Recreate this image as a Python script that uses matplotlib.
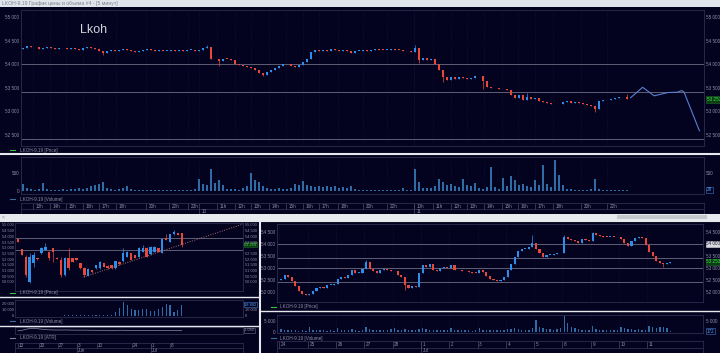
import numpy as np
import matplotlib
matplotlib.use('Agg')
import matplotlib.pyplot as plt
from matplotlib.patches import Rectangle

plt.rcParams['font.family'] = ['Liberation Sans', 'DejaVu Sans']

# ------------------------------------------------------------------ data
title_text = "LKOH-9.19 График цены и объема #4 - [5 минут]"
ticker_name = "Lkoh"
last_price = 53253

# --- top window: 5-minute chart (closes; opens follow previous close)
top_first_open = 54330
top_close = [
    54340, 54380, 54370, 54360, 54330, 54350, 54360, 54340,
    54330, 54350, 54340, 54330, 54340, 54320, 54300, 54340,
    54360, 54350, 54330, 54290, 54240, 54280, 54300, 54290,
    54310, 54320, 54300, 54270, 54260, 54280, 54310, 54320,
    54300, 54290, 54300, 54280, 54290, 54300, 54290, 54300,
    54290, 54300, 54310, 54290, 54310, 54340, 54370, 54110,
    54100, 54060, 54120, 54110, 54080, 54010, 53990, 53960,
    53940, 53910, 53870, 53810, 53780, 53840, 53870, 53920,
    53970, 54010, 54000, 53960, 53950, 53990, 54050, 54120,
    54250, 54300, 54290, 54310, 54290, 54320, 54310, 54290,
    54310, 54280, 54230, 54280, 54290, 54300, 54290, 54300,
    54320, 54310, 54300, 54310, 54320, 54310, 54300, 54280,
    54270, 54250, 54340, 54080, 54140, 54090, 54120, 54000,
    53880, 53720, 53660, 53720, 53690, 53720, 53700, 53680,
    53700, 53740, 53760, 53650, 53520, 53500, 53490, 53480,
    53470, 53450, 53340, 53290, 53350, 53240, 53300, 53270,
    53290, 53230, 53200, 53180, 53150, 53160, 53150, 53190,
    53210, 53180, 53190, 53170, 53160, 53140, 53120, 53050,
    53220, 53240, 53250, 53260, 53290, 53300, 53310, 53253,
]
top_hi_idx = [46, 98, 126, 151]
top_hi_val = [54400, 54400, 53400, 53370]
top_lo_idx = [20, 49, 60, 99, 105, 115, 143]
top_lo_val = [54200, 53960, 53750, 54020, 53620, 53480, 52980]
top_volume = [
    200, 80, 40, 30, 40, 220, 40, 30,
    20, 30, 40, 30, 50, 60, 80, 60,
    90, 120, 160, 200, 240, 90, 40, 30,
    60, 80, 140, 60, 20, 10, 20, 10,
    20, 10, 30, 10, 20, 10, 10, 20,
    10, 20, 30, 40, 320, 200, 150, 620,
    230, 300, 160, 60, 40, 50, 30, 70,
    120, 500, 300, 250, 120, 80, 60, 50,
    70, 60, 50, 80, 200, 150, 280, 150,
    120, 100, 130, 110, 120, 100, 140, 90,
    110, 80, 120, 40, 20, 10, 20, 10,
    10, 20, 10, 10, 10, 20, 10, 80,
    10, 10, 620, 250, 90, 80, 70, 120,
    320, 250, 150, 200, 120, 100, 320, 150,
    120, 230, 80, 60, 100, 680, 100, 60,
    350, 120, 410, 300, 150, 180, 120, 100,
    300, 150, 720, 200, 100, 870, 440, 150,
    60, 40, 20, 20, 10, 20, 40, 330,
    60, 30, 20, 20, 10, 20, 10, 28,
]
top_forecast_t = [151.9, 154.9, 157.8, 161.25, 163.5, 164.7, 165.25, 169.1]
top_forecast_p = [53290, 53510, 53330, 53400, 53405, 53440, 53410, 52590]
top_levels = [54000, 53420, 52420]
top_yticks = [52500, 53000, 53500, 54000, 54500, 55000]
top_vol_ticks = [0, 500]
top_hour_pos = [2.6, 6.75, 10.75, 14.9, 19.1, 23.25, 30.75, 36.6, 41.2,
                48.4, 53.0, 56.9, 61.6, 65.75, 69.9, 74.1, 78.7, 85.1, 90.9,
                97.8, 102.6, 106.9, 110.9, 115.3, 119.7, 123.8, 128.0, 132.6, 139.5, 145.9]
top_hour_labels = ['13h', '14h', '15h', '16h', '17h', '18h', '20h', '22h', '23h',
                   '11h', '12h', '13h', '14h', '15h', '16h', '17h', '18h', '20h', '22h',
                   '10h', '11h', '12h', '13h', '14h', '15h', '16h', '17h', '18h', '20h', '22h']
top_day_pos = [44.1, 97.8]
top_day_labels = ['10', '11']

# --- bottom-left window: daily chart
bl_open = [53770, 52870, 52220, 50030, 51640, 52080, 52520, 52810, 52660, 52950,
           52130, 51930, 50610, 52080, 52080, 52080, 51640, 51260, 50560, 51050,
           51200, 51200, 51640, 51430, 51490, 51200, 51780, 51870, 52220, 52520,
           52370, 52220, 52660, 53010, 52430, 52660, 52950, 52520, 53830, 53540,
           54180, 54270, 54270]
bl_high = [53800, 52900, 52400, 52520, 52660, 52100, 53050, 53390, 52700, 52980,
           52150, 52220, 52150, 52950, 52100, 52100, 51700, 51350, 51200, 51080,
           51520, 51820, 51680, 51450, 51520, 51880, 51800, 52950, 52680, 52560,
           52400, 53050, 53250, 53050, 53150, 53130, 52980, 53800, 54180, 54200,
           54560, 54300, 54300]
bl_low = [53500, 52350, 50470, 49950, 51340, 51950, 52480, 52780, 51950, 51780,
          51990, 50470, 50500, 51050, 51750, 51900, 51150, 50470, 50520, 50820,
          51170, 51170, 51320, 51170, 51170, 51170, 51520, 51780, 52200, 51900,
          52100, 52200, 52640, 52200, 52400, 52640, 52640, 52500, 53650, 53520,
          54150, 54100, 53100]
bl_close = [53540, 52370, 50610, 52220, 52370, 52020, 53010, 53100, 52080, 52660,
            52020, 50610, 52080, 51200, 51780, 51930, 51200, 50610, 51140, 50850,
            51490, 51780, 51350, 51200, 51200, 51840, 51550, 52520, 52600, 51930,
            52130, 53010, 52950, 52220, 53100, 53100, 52660, 53770, 53680, 54180,
            54420, 54120, 53253]
bl_volume = [150, 200, 300, 250, 200, 150, 200, 150, 200, 250,
             300, 250, 700, 500, 600, 900, 500, 800, 600, 700,
             900, 1000, 800, 1200, 2000, 6800, 12500, 24000, 18200, 11400,
             9700, 9700, 11400, 11400, 8000, 8000, 11400, 15400, 19400, 18200,
             6800, 9700, 18802]
bl_atr = [1000, 1080, 1200, 1300, 1320, 1280, 1220, 1170, 1130, 1120,
          1110, 1110, 1120, 1110, 1100, 1100, 1090, 1100, 1090, 1080,
          1080, 1070, 1080, 1070, 1060, 1070, 1080, 1080, 1070, 1070,
          1060, 1070, 1060, 1050, 1060, 1050, 1050, 1060, 1060, 1070,
          1070, 1060, 1060]
bl_trend_t = [16.8, 57.7]
bl_trend_p = [50430, 55080]
bl_levels = [53860, 52830]
bl_yticks = [50000, 50500, 51000, 51500, 52000, 52500, 53000, 53500, 54000, 54500, 55000]
bl_right_yticks = [50000, 50500, 51000, 51500, 52000, 52500, 53500, 54000, 54500, 55000]
bl_vol_ticks = [0, 10000, 20000]
bl_week_pos = [0.0, 5.4, 10.3, 15.1, 20.3, 29.2, 34.1, 39.0]
bl_week_labels = ['13', '20', '27', '3', '10', '24', '1', '8']
bl_month_pos = [15.1, 34.1]
bl_month_labels = ['Jun', 'Jul']

# --- bottom-right window: hourly chart (8 bars per day shown)
br_first_open = 52480
br_close = [
    52550, 52680, 52600, 52450, 52250, 52050, 51900, 51880,   # 24
    51920, 52050, 52150, 52200, 52150, 52280, 52300, 52330,   # 25
    52550, 52620, 52560, 52680, 52900, 52780, 52780, 52960,   # 26
    53250, 52950, 52880, 52800, 52900, 52940, 52920, 52880,   # 27
    52850, 52700, 52600, 52300, 52150, 52250, 52180, 52800,   # 28
    53100, 53050, 53150, 52900, 52880, 53000, 53050, 53000,   # 1
    53100, 52900, 52920, 52880, 52850, 52820, 52800, 52780,   # 2
    52900, 52820, 52650, 52550, 52480, 52450, 52500, 52600,   # 3
    52900, 53150, 53450, 53700, 53780, 53800, 53850, 54050,   # 4
    53800, 53600, 53450, 53550, 53550, 53580, 53600, 53620,   # 5
    54300, 54200, 54150, 54100, 54050, 54200, 54150, 54100,   # 8
    54450, 54350, 54330, 54300, 54280, 54300, 54290, 54270,   # 9
    54200, 54050, 53900, 54100, 54250, 54280, 54250, 53950,   # 10
    53650, 53500, 53300, 53200, 53150, 53200, 53253,          # 11
]
br_hi_idx = [24, 71, 80, 88]
br_hi_val = [53330, 54360, 54380, 54470]
br_lo_idx = [35, 108]
br_lo_val = [52080, 53030]
br_volume = [
    1200, 800, 600, 900, 700, 500, 600, 400,
    2300, 900, 700, 600, 800, 500, 600, 400,
    1500, 900, 800, 700, 1200, 600, 500, 900,
    2300, 1200, 900, 800, 700, 600, 900, 1100,
    1500, 900, 1000, 1300, 800, 700, 900, 1200,
    1800, 1100, 900, 700, 800, 600, 700, 900,
    1600, 900, 800, 600, 700, 800, 500, 600,
    1500, 900, 800, 700, 600, 800, 700, 1000,
    1200, 1400, 1600, 1200, 1000, 900, 800, 1500,
    5400, 2000, 1600, 1400, 1200, 1000, 1300, 1500,
    7300, 3900, 2000, 1500, 1200, 1000, 900, 800,
    2500, 1400, 1000, 900, 800, 700, 900, 800,
    2300, 1600, 1400, 1100, 900, 1200, 800, 1000,
    2600, 2200, 1800, 2000, 2400, 1500, 172,
]
br_levels = [54000, 53390, 53000, 52390]
br_yticks = [52000, 52500, 53000, 53500, 54000, 54500]
br_right_yticks = [52000, 52500, 53000, 53500, 54500]
br_vol_ticks = [0, 5000]
br_day_labels = ['24', '25', '26', '27', '28', '1', '2', '3', '4', '5', '8', '9', '10', '11']
br_bars_per_day = 8
br_month_day = 5
br_month_labels = ['Jul']

# ------------------------------------------------------------------ style
W, H = 720, 353
BG = '#03031f'
FRAME = '#2c2c50'
LEVEL = '#5e5e74'
GRID = '#15153a'
TXT = '#8e8ea8'
RED = '#e8473c'
BLUE = '#2f8fe8'
VOL = '#2f6ca6'
WHITE = '#e6e8ee'
FS = 3.3

fig = plt.figure(figsize=(W / 100, H / 100), dpi=100, facecolor=BG)


def pax(x0, y0, x1, y1, z=1):
    ax = fig.add_axes([x0 / W, 1 - y1 / H, (x1 - x0) / W, (y1 - y0) / H], zorder=z)
    ax.set_facecolor(BG)
    for s in ax.spines.values():
        s.set_color(FRAME)
        s.set_linewidth(0.6)
    ax.tick_params(length=0, labelsize=FS, colors=TXT, pad=1.4)
    ax.set_xticks([])
    return ax


def fmt(v):
    return f"{int(round(v)):,}".replace(',', ' ')


def ohlc_from_close(first_open, close, hi_idx, hi_val, lo_idx, lo_val):
    c = np.asarray(close, float)
    o = np.concatenate([[first_open], c[:-1]])
    h = np.maximum(o, c)
    l = np.minimum(o, c)
    for i, v in zip(hi_idx, hi_val):
        h[i] = max(h[i], v)
    for i, v in zip(lo_idx, lo_val):
        l[i] = min(l[i], v)
    return o, h, l, c


def draw_candles(ax, o, h, l, c, width, min_body):
    o, h, l, c = (np.asarray(a, float) for a in (o, h, l, c))
    x = np.arange(len(c))
    col = np.where(c >= o, BLUE, RED)
    ax.vlines(x, l, h, colors=col, linewidth=0.5, zorder=3)
    body = np.maximum(np.abs(c - o), min_body)
    ax.bar(x, body, bottom=np.minimum(o, c), width=width, color=col, linewidth=0, zorder=4)


def yticks_both(ax, ticks, right_ticks=None, lpad=1.4, rpad=1.6, fs=FS):
    ax.set_yticks(ticks)
    ax.set_yticklabels([fmt(t) for t in ticks])
    ax.tick_params(axis='y', labelleft=True, labelright=False, labelsize=fs, pad=lpad)
    ax2 = ax.twinx()
    ax2.set_ylim(ax.get_ylim())
    rt = ticks if right_ticks is None else right_ticks
    ax2.set_yticks(rt)
    ax2.set_yticklabels([fmt(t) for t in rt])
    ax2.tick_params(length=0, labelsize=fs, colors=TXT, pad=rpad)
    ax2.set_xticks([])
    for s in ax2.spines.values():
        s.set_visible(False)
    return ax2


def tag(ax, y, text, fc, ec, tc, x=1.006, fs=FS):
    ax.text(x, y, text, transform=ax.get_yaxis_transform(), ha='left', va='center',
            fontsize=fs, color=tc, zorder=30, clip_on=False,
            bbox=dict(boxstyle='square,pad=0.12', fc=fc, ec=ec, lw=0.4))


def time_axis(ax, xlim, minor_pos, minor_lab, major_pos, major_lab, split):
    ax.set_xlim(*xlim)
    ax.set_ylim(0, 1)
    ax.set_yticks([])
    ax.axhline(split, color=FRAME, lw=0.6)
    ax.vlines(minor_pos, split, 1, color='#4a4a66', lw=0.5)
    ax.vlines(major_pos, 0, 1, color='#4a4a66', lw=0.5)
    dx = (xlim[1] - xlim[0]) * 0.004
    for p, t in zip(minor_pos, minor_lab):
        ax.text(p + dx, (1 + split) / 2, t, fontsize=FS, color=TXT, ha='left', va='center')
    for p, t in zip(major_pos, major_lab):
        ax.text(p + dx, split / 2, t, fontsize=FS, color=TXT, ha='left', va='center')


GREEN_TAG = ('#0d3d12', '#1f6a26', '#3ee04c')
BLUE_TAG = (BG, '#3a78c8', '#5aa0f0')

# ------------------------------------------------------------------ top window
t_o, t_h, t_l, t_c = ohlc_from_close(top_first_open, top_close, top_hi_idx, top_hi_val,
                                     top_lo_idx, top_lo_val)
top_xlim = (-0.5, 170.25)

axp = pax(21, 10, 704, 146)
axp.set_xlim(*top_xlim)
axp.set_ylim(52267, 55148)
axp.vlines(top_hour_pos + top_day_pos, 52267, 55148, color=GRID, lw=0.5, linestyle=':', zorder=1)
for lv in top_levels:
    axp.axhline(lv, color=LEVEL, lw=0.7, zorder=2)
draw_candles(axp, t_o, t_h, t_l, t_c, 0.55, 12)
axp.plot(top_forecast_t, top_forecast_p, color='#5a80d2', lw=0.8, zorder=5)
axp.text(0.087, 0.85, ticker_name, transform=axp.transAxes, fontsize=9, color='#d4d4dc',
         ha='left', va='center')
yticks_both(axp, top_yticks)
tag(axp, last_price, fmt(last_price), *GREEN_TAG, x=1.004)

axv = pax(21, 157, 704, 194)
axv.set_xlim(*top_xlim)
axv.set_ylim(-93, 952)
axv.vlines(top_hour_pos + top_day_pos, -93, 952, color=GRID, lw=0.5, linestyle=':', zorder=1)
axv.bar(np.arange(len(top_volume)), top_volume, width=0.45, color=VOL, linewidth=0, zorder=3)
yticks_both(axv, top_vol_ticks, right_ticks=[500])
tag(axv, top_volume[-1], str(top_volume[-1]), *BLUE_TAG, x=1.004)

axt = pax(21, 203, 704, 214)
time_axis(axt, top_xlim, top_hour_pos, top_hour_labels, top_day_pos, top_day_labels, 0.45)

# ------------------------------------------------------------------ bottom-left window
BLFS = 2.9
bl_xlim = (-0.77, 57.7)
abp = pax(15, 223, 243, 291)
abp.set_xlim(*bl_xlim)
abp.set_ylim(49210, 55175)
for lv in bl_levels:
    abp.axhline(lv, color=LEVEL, lw=0.7, zorder=2)
draw_candles(abp, bl_open, bl_high, bl_low, bl_close, 0.62, 50)
abp.plot(bl_trend_t, bl_trend_p, color='#a86a6a', lw=0.7, linestyle=(0, (1, 1.5)), zorder=5)
yticks_both(abp, bl_yticks, right_ticks=bl_right_yticks, lpad=1.0, rpad=1.2, fs=BLFS)
tag(abp, last_price, fmt(last_price), *GREEN_TAG, x=1.006, fs=BLFS)

abv = pax(15, 300, 243, 317)
abv.set_xlim(*bl_xlim)
abv.set_ylim(-2200, 26800)
abv.bar(np.arange(len(bl_volume)), bl_volume, width=0.3, color=VOL, linewidth=0, zorder=3)
yticks_both(abv, bl_vol_ticks, right_ticks=[0, 10000], lpad=1.0, rpad=1.2, fs=BLFS)
tag(abv, bl_volume[-1], fmt(bl_volume[-1]), *BLUE_TAG, x=1.006, fs=BLFS)

aba = pax(15, 327, 243, 334)
aba.set_xlim(*bl_xlim)
aba.set_ylim(600, 1500)
aba.set_yticks([])
aba.plot(np.arange(len(bl_atr)), bl_atr, color='#8a8aa6', lw=0.5)
tag(aba, bl_atr[-1], fmt(bl_atr[-1]), BG, '#6a6a88', TXT, x=1.006, fs=BLFS)

abt = pax(15, 343, 243, 353)
time_axis(abt, bl_xlim, bl_week_pos, bl_week_labels, bl_month_pos, bl_month_labels, 0.53)

# ------------------------------------------------------------------ bottom-right window
b_o, b_h, b_l, b_c = ohlc_from_close(br_first_open, br_close, br_hi_idx, br_hi_val,
                                     br_lo_idx, br_lo_val)
br_xlim = (-1.15, 119.2)
day_pos = [k * br_bars_per_day - 0.5 for k in range(len(br_day_labels))]

arp = pax(277, 224, 703, 302)
arp.set_xlim(*br_xlim)
arp.set_ylim(51571, 54821)
arp.vlines(day_pos, 51571, 54821, color=GRID, lw=0.5, linestyle=':', zorder=1)
for lv in br_levels:
    arp.axhline(lv, color=LEVEL, lw=0.7, zorder=2)
draw_candles(arp, b_o, b_h, b_l, b_c, 0.6, 25)
yticks_both(arp, br_yticks, right_ticks=br_right_yticks, lpad=1.4, rpad=2.0)
tag(arp, 54000, fmt(54000), '#d8d8e0', '#d8d8e0', '#202030', x=1.008)
tag(arp, last_price, fmt(last_price), *GREEN_TAG, x=1.008)

arv = pax(277, 315, 703, 333)
arv.set_xlim(*br_xlim)
arv.set_ylim(-607, 7800)
arv.vlines(day_pos, -607, 7800, color=GRID, lw=0.5, linestyle=':', zorder=1)
arv.bar(np.arange(len(br_volume)), br_volume, width=0.4, color=VOL, linewidth=0, zorder=3)
yticks_both(arv, br_vol_ticks, right_ticks=[5000], lpad=1.4, rpad=2.0)
tag(arv, br_volume[-1], str(br_volume[-1]), *BLUE_TAG, x=1.008)

art = pax(277, 341, 703, 353)
time_axis(art, br_xlim, day_pos, br_day_labels,
          [day_pos[br_month_day]], br_month_labels, 0.44)

# ------------------------------------------------------------------ overlay (chrome, legends)
ov = fig.add_axes([0, 0, 1, 1], zorder=50)
ov.set_xlim(0, W)
ov.set_ylim(H, 0)
ov.axis('off')
ov.patch.set_alpha(0)

ov.add_patch(Rectangle((0, 0), W, 7, color='#dfe5ec', lw=0))
ov.text(2, 3.6, title_text, fontsize=3.7, color='#7c838c', ha='left', va='center')

ov.plot([0, W], [153.8, 153.8], color=WHITE, lw=1.5, solid_capstyle='butt')
ov.add_patch(Rectangle((0, 214), W, 6.5, color='#e6eaee', lw=0))
ov.add_patch(Rectangle((617, 215.2), 90, 4, color='#c4c8cd', lw=0))
ov.text(2, 217.2, '<', fontsize=3.6, color='#808890', ha='left', va='center')
ov.plot([0, W], [221, 221], color=WHITE, lw=0.8)
ov.plot([259.5, 259.5], [220.5, H], color=WHITE, lw=1.5)
ov.plot([0, 258.5], [297, 297], color=WHITE, lw=1.0)
ov.plot([0, 258.5], [325.5, 325.5], color=WHITE, lw=1.0)
ov.plot([260.5, W], [311, 311], color=WHITE, lw=1.0)

legend_items = [
    (10, 150.2, '#3bbf47', 'LKOH-9.19 [Price]'),
    (10, 199.0, '#3a6aa0', 'LKOH-9.19 [Volume]'),
    (10, 292.8, '#3bbf47', 'LKOH-9.19 [Price]'),
    (10, 321.3, '#3a6aa0', 'LKOH-9.19 [Volume]'),
    (10, 338.0, '#8080a0', 'LKOH-9.19 [ATR]'),
    (271, 306.8, '#3bbf47', 'LKOH-9.19 [Price]'),
    (271, 338.3, '#3a6aa0', 'LKOH-9.19 [Volume]'),
]
for x0, y0, c, t in legend_items:
    ov.plot([x0, x0 + 5], [y0, y0], color=c, lw=0.8)
    ov.text(x0 + 9.5, y0, t, fontsize=FS, color=TXT, ha='left', va='center')

fig.savefig('out.png', dpi=100, facecolor=BG)
